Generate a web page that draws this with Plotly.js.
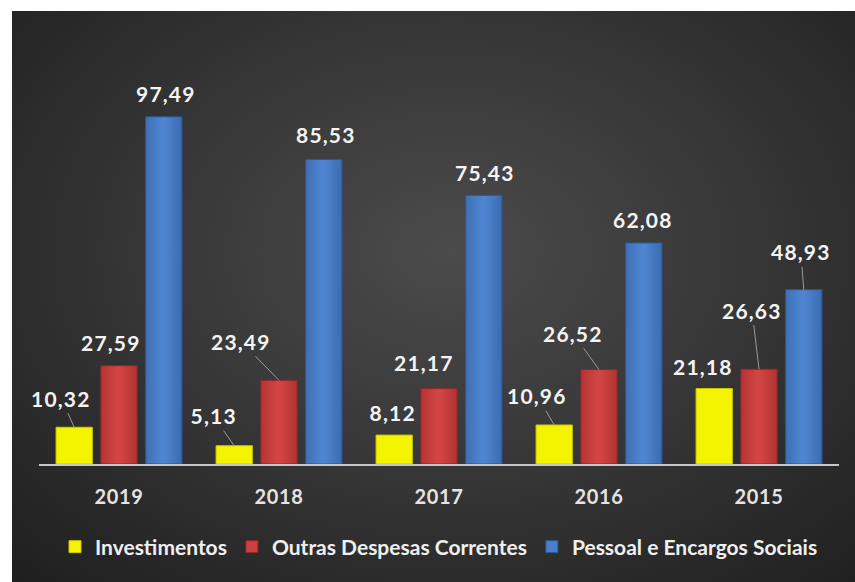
<!DOCTYPE html>
<html>
<head>
<meta charset="utf-8">
<script src="https://cdn.plot.ly/plotly-3.0.1.min.js"></script>
<style>
  html, body { margin: 0; padding: 0; background: #ffffff; }
  #wrap { position: relative; width: 855px; height: 582px; overflow: hidden; background: #ffffff; }
  #bg { position: absolute; left: 12px; top: 11px; width: 843px; height: 571px;
        background: radial-gradient(ellipse 75% 80% at 52% 42%, #4b4b4b 0%, #3a3a3a 40%, #2a2a2a 75%, #1f1f1f 100%); }
  #chart { position: absolute; left: 0; top: 0; width: 855px; height: 582px; }
  #chart .annotation-text { letter-spacing: 1.2px; }
  #chart .xtick text { letter-spacing: 0.6px; }
  #chart .barlayer .trace:nth-child(2) .point path { fill: url(#gradRed) !important; }
  #chart .barlayer .trace:nth-child(3) .point path { fill: url(#gradBlue) !important; }
</style>
</head>
<body>
<svg width="0" height="0" style="position:absolute">
  <defs>
    <linearGradient id="gradRed" x1="0" y1="0" x2="1" y2="0">
      <stop offset="0" stop-color="#b53434"/>
      <stop offset="0.5" stop-color="#d44646"/>
      <stop offset="1" stop-color="#b03232"/>
    </linearGradient>
    <linearGradient id="gradBlue" x1="0" y1="0" x2="1" y2="0">
      <stop offset="0" stop-color="#3f70b8"/>
      <stop offset="0.5" stop-color="#5086d2"/>
      <stop offset="1" stop-color="#3b6bb2"/>
    </linearGradient>
  </defs>
</svg>
<div id="wrap"><div id="bg"></div><div id="chart"></div></div>
<script>
// ---- data ----
const categories = ['2019', '2018', '2017', '2016', '2015'];
const investimentos = [10.32, 5.13, 8.12, 10.96, 21.18];
const outrasDespesas = [27.59, 23.49, 21.17, 26.52, 26.63];
const pessoalEncargos = [97.49, 85.53, 75.43, 62.08, 48.93];
const seriesNames = ['Investimentos', 'Outras Despesas Correntes', 'Pessoal e Encargos Sociais'];

// ---- styling ----
const seriesColors = ['#f4f400', '#cc4040', '#4a7fcb'];
const lineColors = ['#c8c800', '#8e2828', '#2b5896'];
// label placement relative to bar top: [dx px, dy px, leader line]
const labelPlacement = [
  [[-13, -29, 1], [-21, -30, 1], [-2, -23, 0], [-17, -29, 1], [-11, -22, 0]],
  [[-8, -23, 0], [-38, -39, 1], [-15, -26, 0], [-26, -36, 1], [-7, -59, 1]],
  [[2, -23, 0], [2, -25, 0], [1, -23, 0], [-1, -23, 0], [-3, -38, 1]]
];

const W = 855, H = 582;
const margin = {l: 39, r: 16, t: 11, b: 118};
const bargap = 0.16, bargroupgap = 0.19;
const plotW = W - margin.l - margin.r;
const slot = plotW / categories.length * (1 - bargap) / 3;

const allSeries = [investimentos, outrasDespesas, pessoalEncargos];
const fmt = v => v.toFixed(2).replace('.', ',');

const traces = allSeries.map((vals, i) => ({
  type: 'bar',
  name: seriesNames[i],
  x: categories,
  y: vals,
  marker: {color: seriesColors[i], line: {color: lineColors[i], width: 1}},
  hoverinfo: 'x+y+name'
}));

const labelFont = {family: 'Lato, "Open Sans", sans-serif', size: 21, color: '#f4f4f4', weight: 'bold'};
const annotations = [];
allSeries.forEach((vals, si) => {
  const off = (si - 1) * slot;
  vals.forEach((v, ci) => {
    const [dx, dy, leader] = labelPlacement[si][ci];
    const base = {x: ci, y: v, xref: 'x', yref: 'y', text: fmt(v), font: labelFont};
    if (leader) {
      annotations.push(Object.assign(base, {
        showarrow: true, arrowhead: 0, arrowwidth: 1, arrowcolor: '#9a9a9a',
        ax: dx, ay: dy, axref: 'pixel', ayref: 'pixel', xshift: off,
        standoff: 0, startstandoff: 1
      }));
    } else {
      annotations.push(Object.assign(base, {
        showarrow: false, xanchor: 'center', yanchor: 'middle',
        xshift: off + dx, yshift: -dy
      }));
    }
  });
});

const layout = {
  width: W, height: H,
  margin: margin,
  paper_bgcolor: 'rgba(0,0,0,0)',
  plot_bgcolor: 'rgba(0,0,0,0)',
  barmode: 'group',
  bargap: bargap,
  bargroupgap: bargroupgap,
  font: {family: 'Lato, "Open Sans", sans-serif', color: '#eeeeee'},
  xaxis: {
    type: 'category',
    range: [-0.5, categories.length - 0.5],
    showline: true, linecolor: '#c4c8cc', linewidth: 2,
    showgrid: false, zeroline: false,
    ticks: '', ticklabelstandoff: 14,
    tickfont: {family: 'Lato, sans-serif', size: 20, color: '#e4e4e4', weight: 'bold'}
  },
  yaxis: {
    range: [0, 127.2],
    visible: false, showgrid: false, zeroline: false, fixedrange: true
  },
  showlegend: true,
  legend: {
    orientation: 'h', x: 0.5, xanchor: 'center',
    yref: 'container', y: 1 - 547 / H, yanchor: 'middle',
    font: {family: 'Lato, sans-serif', size: 21, color: '#f0f0f0', weight: 'bold'},
    bgcolor: 'rgba(0,0,0,0)', itemclick: false, itemdoubleclick: false,
    traceorder: 'normal'
  },
  annotations: annotations
};

Plotly.newPlot('chart', traces, layout, {displayModeBar: false, staticPlot: true});
</script>
</body>
</html>
